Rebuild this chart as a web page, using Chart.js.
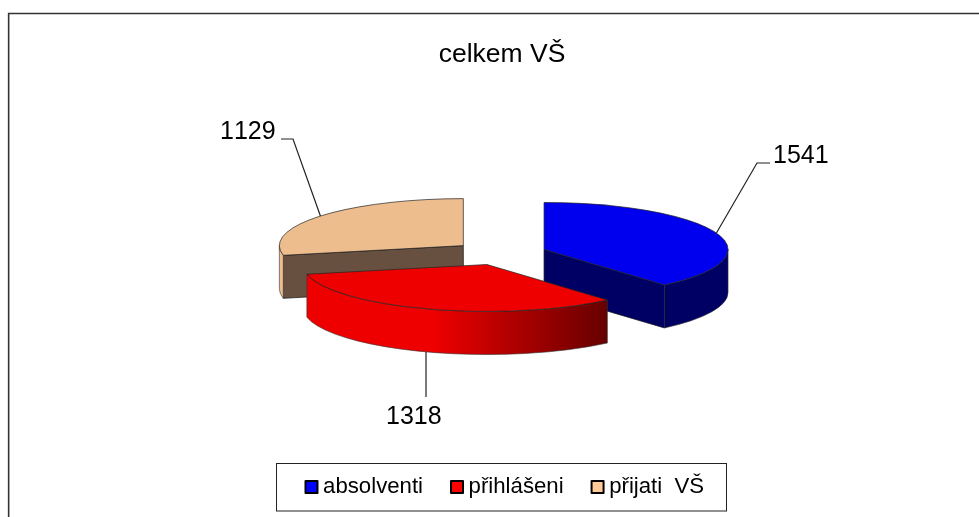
<!DOCTYPE html>
<html lang="cs">
<head>
<meta charset="utf-8">
<title>celkem VŠ</title>
<style>html,body{margin:0;padding:0;background:#fff}canvas{display:block}</style>
<script src="https://cdn.jsdelivr.net/npm/chart.js@4/dist/chart.umd.min.js"></script>
</head>
<body>
<canvas id="c" width="979" height="517"></canvas>
<script>
const categories = ['absolventi', 'přihlášeni', 'přijati  VŠ'];
const values = [1541, 1318, 1129];
const titleText = 'celkem VŠ';
const markerColors = ['#0000FF', '#FF0000', '#FFCC99'];
const topColors = ['#0000EE', '#EE0000', '#EDBD8E'];
const sideColors = ['#000064', '#EE0000', '#EDBD8E'];
const faceColors = ['#000064', '#660000', '#685040'];
const explodeBy = [45.5, 45.5, 49];
const drawOrder = [2, 0, 1];

const FONT = '"Liberation Sans", Arial, sans-serif';
const PIE = { cx: 501.4, cy: 253.5, rx: 184, ry: 47, depth: 43 };
const LEGEND_BOX = { x: 276.5, y: 463.5, w: 450, h: 47.5 };
const LEGEND_START_X = 311;
const LEGEND_TEXT_MID_Y = 487;
const LABELS = [
  { x: 773, y: 163, elbow: [757, 163], end: [770, 163], onFloor: false, shift: 0 },
  { x: 386, y: 424, elbow: null, end: [426, 397], onFloor: true, shift: -2.2 },
  { x: 220, y: 139, elbow: [293, 139], end: [281, 139], onFloor: false, shift: 0 }
];

function wedgeGeom(arc, i) {
  const mid = (arc.startAngle + arc.endAngle) / 2;
  const yk = PIE.ry / PIE.rx;
  const sx = arc.x + Math.cos(mid) * explodeBy[i];
  const sy = arc.y + Math.sin(mid) * explodeBy[i] * yk;
  return { sx, sy, mid, a0: arc.startAngle, a1: arc.endAngle, r: arc.outerRadius, ry: arc.outerRadius * yk };
}

const pie3d = {
  id: 'pie3d',
  afterLayout(chart) {
    const ca = chart.chartArea;
    ca.left = PIE.cx - PIE.rx; ca.right = PIE.cx + PIE.rx;
    ca.top = PIE.cy - PIE.rx; ca.bottom = PIE.cy + PIE.rx;
    ca.width = 2 * PIE.rx; ca.height = 2 * PIE.rx;
    const t = chart.titleBlock;
    const tw = t.right - t.left, th = t.bottom - t.top;
    t.left = 502 - tw / 2; t.right = 502 + tw / 2; t.top = 39; t.bottom = 39 + th;
    const l = chart.legend;
    const W = l.lineWidths[0], pad = l.options.labels.padding;
    l.right = 979;
    l.left = 2 * LEGEND_START_X - pad - l.right + W;
    const h = l.bottom - l.top;
    l.top = LEGEND_TEXT_MID_Y - pad - 11;
    l.bottom = l.top + h;
  },
  beforeDraw(chart) {
    const c = chart.ctx;
    c.save();
    c.fillStyle = '#fff';
    c.fillRect(0, 0, chart.width, chart.height);
    c.strokeStyle = '#bbb'; c.lineWidth = 1;
    c.beginPath(); c.moveTo(9.5, 14); c.lineTo(9.5, 517); c.stroke();
    c.strokeStyle = '#333'; c.lineWidth = 1.3;
    c.beginPath(); c.moveTo(8.5, 517); c.lineTo(8.5, 13.5); c.lineTo(979, 13.5); c.stroke();
    c.strokeStyle = '#222'; c.lineWidth = 1;
    c.strokeRect(LEGEND_BOX.x, LEGEND_BOX.y, LEGEND_BOX.w, LEGEND_BOX.h);
    c.restore();
  },
  beforeDatasetDraw(chart, args) {
    const c = chart.ctx;
    const arcs = chart.getDatasetMeta(args.index).data;
    const d = PIE.depth;
    c.save();
    c.lineJoin = 'round';
    drawOrder.forEach(i => {
      const g = wedgeGeom(arcs[i], i);
      [[g.a0, -Math.PI / 2], [g.a1, Math.PI / 2]].forEach(([a, n]) => {
        if (Math.sin(a + n) <= 0.001) return;
        const px = g.sx + Math.cos(a) * g.r, py = g.sy + Math.sin(a) * g.ry;
        c.beginPath();
        c.moveTo(g.sx, g.sy); c.lineTo(px, py); c.lineTo(px, py + d); c.lineTo(g.sx, g.sy + d); c.closePath();
        c.fillStyle = faceColors[i]; c.fill();
        c.strokeStyle = '#111'; c.lineWidth = 0.7; c.stroke();
      });
      const from = Math.max(g.a0, 0), to = Math.min(g.a1, Math.PI);
      if (to > from) {
        c.beginPath();
        c.ellipse(g.sx, g.sy, g.r, g.ry, 0, from, to);
        c.ellipse(g.sx, g.sy + d, g.r, g.ry, 0, to, from, true);
        c.closePath();
        if (i === 1) {
          const x0 = g.sx - g.r, x1 = g.sx + Math.cos(g.a0) * g.r;
          const grad = c.createLinearGradient(x0, 0, x1, 0);
          grad.addColorStop(0, '#EE0000');
          grad.addColorStop(0.43, '#EE0000');
          grad.addColorStop(1, faceColors[1]);
          c.fillStyle = grad;
        } else {
          c.fillStyle = sideColors[i];
        }
        c.fill();
        c.strokeStyle = '#333'; c.lineWidth = 0.6; c.stroke();
      }
      c.beginPath();
      c.moveTo(g.sx, g.sy);
      c.ellipse(g.sx, g.sy, g.r, g.ry, 0, g.a0, g.a1);
      c.closePath();
      c.fillStyle = topColors[i]; c.fill();
      c.strokeStyle = '#222'; c.lineWidth = 0.7; c.stroke();
    });
    c.restore();
    return false;
  },
  afterDatasetsDraw(chart) {
    const c = chart.ctx;
    const arcs = chart.getDatasetMeta(0).data;
    c.save();
    c.font = '25px ' + FONT;
    c.fontKerning = 'none';
    c.fillStyle = '#000';
    c.textAlign = 'left'; c.textBaseline = 'alphabetic';
    c.strokeStyle = '#222'; c.lineWidth = 1.2;
    LABELS.forEach((lab, i) => {
      const g = wedgeGeom(arcs[i], i);
      const ax = g.sx + Math.cos(g.mid) * g.r + lab.shift;
      const ay = g.sy + Math.sin(g.mid) * g.ry + (lab.onFloor ? PIE.depth : 0);
      c.beginPath();
      c.moveTo(ax, ay);
      if (lab.elbow) c.lineTo(lab.elbow[0], lab.elbow[1]);
      c.lineTo(lab.elbow ? lab.end[0] : ax, lab.end[1]);
      c.stroke();
      c.fillText(String(values[i]), lab.x, lab.y);
    });
    c.restore();
  }
};

new Chart(document.getElementById('c'), {
  type: 'doughnut',
  plugins: [pie3d],
  data: {
    labels: categories,
    datasets: [{
      data: values,
      backgroundColor: markerColors,
      borderColor: '#000',
      borderWidth: 2
    }]
  },
  options: {
    responsive: false,
    animation: false,
    cutout: 0,
    radius: PIE.rx,
    events: [],
    plugins: {
      tooltip: { enabled: false },
      title: {
        display: true,
        text: titleText,
        color: '#000',
        font: { family: FONT, size: 26.5, weight: 'normal' },
        padding: 0
      },
      legend: {
        position: 'bottom',
        labels: {
          color: '#000',
          font: { family: FONT, size: 22.2 },
          usePointStyle: true,
          pointStyle: 'rect',
          boxWidth: 1,
          boxHeight: 12,
          padding: 33.5,
          generateLabels(chart) {
            return Chart.overrides.doughnut.plugins.legend.labels.generateLabels(chart)
              .map(item => ({ ...item, lineJoin: 'round' }));
          }
        }
      }
    }
  }
});
</script>
</body>
</html>
